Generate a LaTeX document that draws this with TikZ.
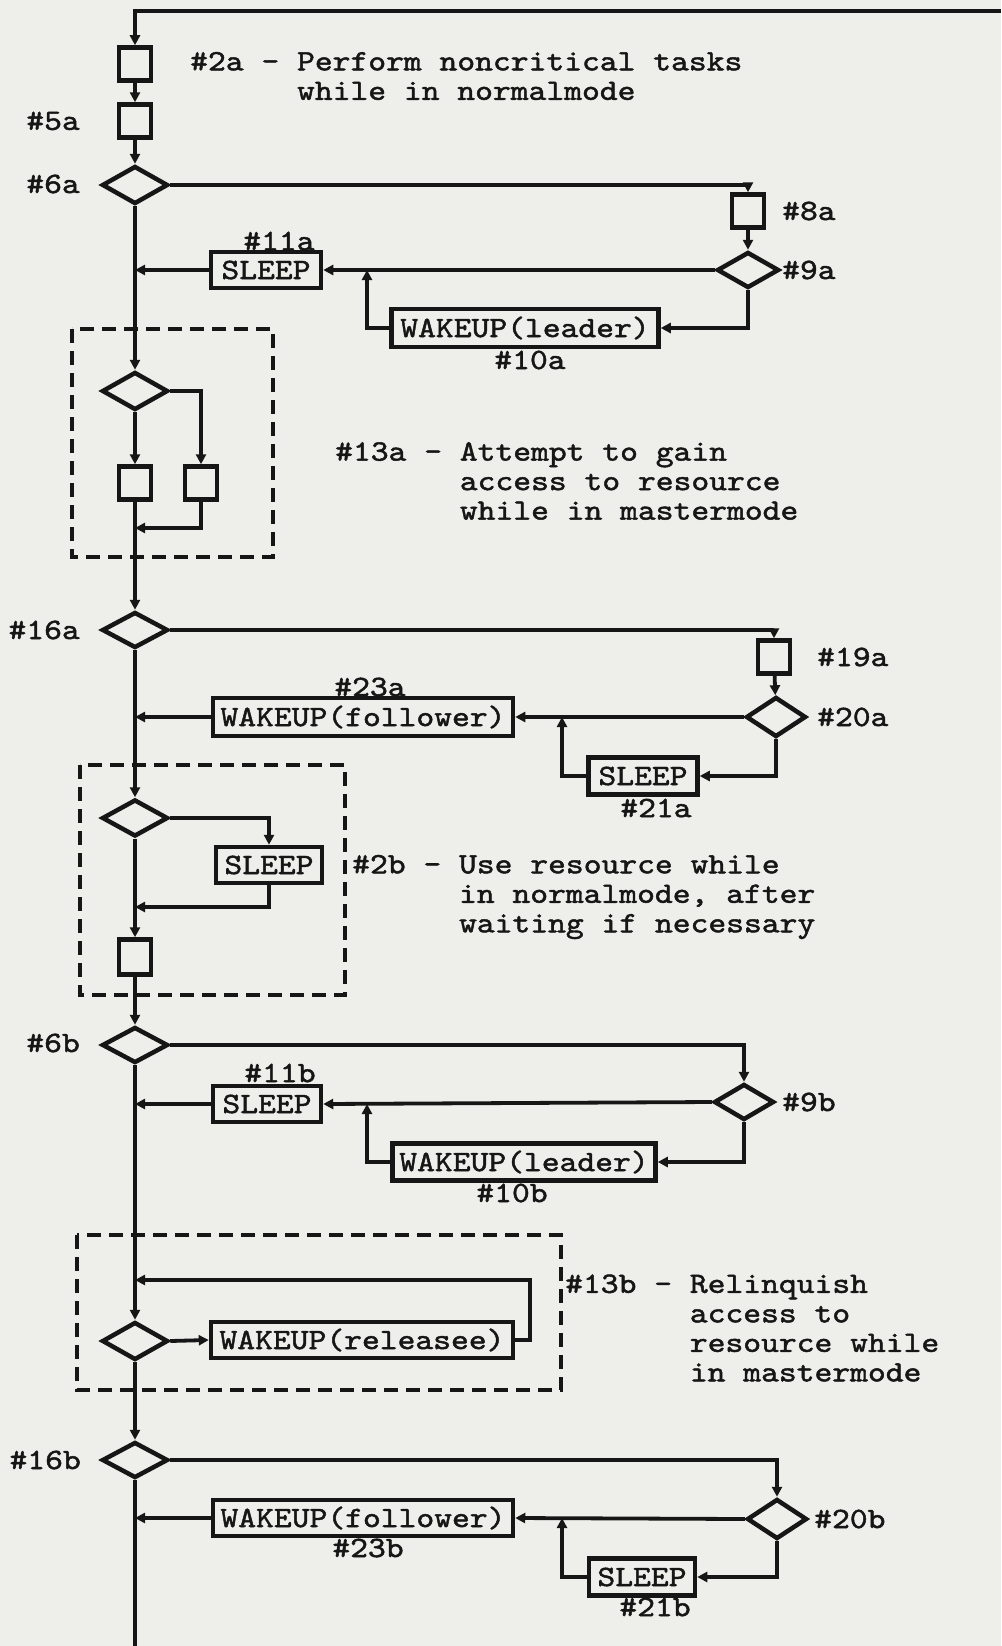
\documentclass[tikz,border=0pt]{standalone}
\usepackage{fontspec}
\newfontfamily\tw{lmmono10-regular}[Extension=.otf,FakeStretch=1.15,FakeBold=1.6]
\usetikzlibrary{shapes.geometric,arrows.meta}
\definecolor{paper}{RGB}{238,238,234}
\definecolor{ink}{RGB}{22,22,22}
\begin{document}
\begin{tikzpicture}[x=1pt,y=-1pt,
  every node/.style={font={\tw\fontsize{29.5}{29.5}\selectfont}, text=ink},
  ln/.style={line width=3.8pt, draw=ink},
  ar/.style={ln, -{Triangle[length=10pt,width=10pt]}},
  sq/.style={draw=ink, line width=4.5pt, minimum width=32pt, minimum height=33pt, inner sep=0pt},
  dm/.style={diamond, draw=ink, line width=4.5pt, minimum width=66pt, minimum height=38pt, inner sep=0pt},
  bx/.style={draw=ink, line width=4.5pt, minimum height=36pt, inner sep=0pt},
  dsh/.style={draw=ink, line width=3.8pt, dash pattern=on 14pt off 8pt},
  lb/.style={inner sep=0pt},
  desc/.style={inner sep=0pt, align=left, anchor=west},
]
\fill[paper] (0,0) rectangle (1001,1646);
\useasboundingbox (0,0) rectangle (1001,1646);

% ---------- part a ----------
\node[sq] (b2a) at (135,64) {};
\node[sq] (b5a) at (135,121) {};
\node[dm] (d6a) at (135,185) {};
\node[sq] (b8a) at (748,211) {};
\node[dm, minimum width=62pt, minimum height=36pt] (d9a) at (748,270) {};
\node[bx, minimum width=110pt] (s11a) at (266,270) {SLEEP};
\node[bx, minimum width=267pt, minimum height=38pt] (w10a) at (525,328) {WAKEUP(leader)};
\coordinate (j10a) at (367,270);

\draw[dsh] (72,329) rectangle (273,557);
\node[dm] (d13a) at (135,391) {};
\node[sq] (bl13a) at (135,483) {};
\node[sq] (br13a) at (201,483) {};
\coordinate (j13a) at (135,528);

\node[dm, minimum height=36pt] (d16a) at (135,630) {};
\node[sq] (b19a) at (774,657) {};
\node[dm, minimum width=60pt, minimum height=40pt] (d20a) at (776,717) {};
\node[bx, minimum width=300pt, minimum height=38pt] (w23a) at (363,717) {WAKEUP(follower)};
\node[bx, minimum width=109pt, minimum height=37pt] (s21a) at (643,776) {SLEEP};
\coordinate (j21a) at (562,717);

% ---------- part b ----------
\draw[dsh] (80,765) rectangle (345,995);
\node[dm, minimum height=37pt] (d2b) at (135,818) {};
\node[bx, minimum width=106pt] (s2b) at (269,865) {SLEEP};
\coordinate (j2b) at (135,907);
\node[sq, minimum height=35pt] (b2b) at (135,957) {};

\node[dm, minimum height=36pt] (d6b) at (135,1045) {};
\node[dm, minimum width=60pt, minimum height=36pt] (d9b) at (744,1102) {};
\node[bx, minimum width=108pt] (s11b) at (267,1104) {SLEEP};
\node[bx, minimum width=263pt, minimum height=37pt] (w10b) at (524,1162) {WAKEUP(leader)};
\coordinate (j10b) at (367,1104);

\draw[dsh] (77,1235) rectangle (561,1390);
\node[dm] (d13b) at (135,1341) {};
\node[bx, minimum width=302pt] (w13b) at (362,1340) {WAKEUP(releasee)};
\coordinate (j13b) at (135,1280);
\coordinate (r13b) at (530,1280);

\node[dm, minimum height=36pt] (d16b) at (135,1460) {};
\node[dm, minimum width=60pt, minimum height=40pt] (d20b) at (777,1519) {};
\node[bx, minimum width=300pt] (w23b) at (363,1518) {WAKEUP(follower)};
\node[bx, minimum width=106pt, minimum height=37pt] (s21b) at (642,1577) {SLEEP};
\coordinate (j21b) at (562,1518);
\coordinate (tr) at (1001,11);
\coordinate (bot) at (135,1646);

% ---------- connectors ----------
\draw[ar] (tr) -| (b2a.north);
\draw[ar] (b2a) -- (b5a);
\draw[ar] (b5a) -- (d6a);
\draw[ar] (d6a.east) -| (b8a.north);
\draw[ar] (b8a) -- (d9a);
\draw[ar] (d9a.west) -- (s11a.east);
\draw[ar] (s11a.west) -- (s11a.west -| d6a.south);
\draw[ar] (d9a.south) |- (w10a.east);
\draw[ar] (w10a.west) -| (j10a);
\draw[ar] (d6a.south) -- (d13a.north);
\draw[ar] (d13a.south) -- (bl13a.north);
\draw[ar] (d13a.east) -| (br13a.north);
\draw[ar] (br13a.south) |- (j13a);
\draw[ar] (bl13a.south) -- (d16a.north);
\draw[ar] (d16a.east) -| (b19a.north);
\draw[ar] (b19a) -- (d20a);
\draw[ar] (d20a.west) -- (w23a.east);
\draw[ar] (w23a.west) -- (w23a.west -| d16a.south);
\draw[ar] (d20a.south) |- (s21a.east);
\draw[ar] (s21a.west) -| (j21a);
\draw[ar] (d16a.south) -- (d2b.north);
\draw[ar] (d2b.east) -| (s2b.north);
\draw[ar] (s2b.south) |- (j2b);
\draw[ar] (d2b.south) -- (b2b.north);
\draw[ar] (b2b.south) -- (d6b.north);
\draw[ar] (d6b.east) -| (d9b.north);
\draw[ar] (d9b.west) -- (s11b.east);
\draw[ar] (s11b.west) -- (s11b.west -| d6b.south);
\draw[ar] (d9b.south) |- (w10b.east);
\draw[ar] (w10b.west) -| (j10b);
\draw[ar] (d6b.south) -- (d13b.north);
\draw[ar] (d13b.east) -- (w13b.west);
\draw[ar] (w13b.east) -| (r13b) -- (j13b);
\draw[ar] (d13b.south) -- (d16b.north);
\draw[ar] (d16b.east) -| (d20b.north);
\draw[ar] (d20b.west) -- (w23b.east);
\draw[ar] (w23b.west) -- (w23b.west -| d16b.south);
\draw[ar] (d20b.south) |- (s21b.east);
\draw[ar] (s21b.west) -| (j21b);
\draw[ln] (d16b.south) -- (bot);

% ---------- labels ----------
\node[desc] (t2a) at (190,76) {\#2a - Perform noncritical tasks\\\hphantom{\#2a - }while in normalmode};
\node[desc] (t13a) at (335,481) {\#13a - Attempt to gain\\\hphantom{\#13a - }access to resource\\\hphantom{\#13a - }while in mastermode};
\node[desc] (t2b) at (352,897) {\#2b - Use resource while\\\hphantom{\#2b - }in normalmode, after\\\hphantom{\#2b - }waiting if necessary};
\node[desc] (t13b) at (565,1328) {\#13b - Relinquish\\\hphantom{\#13b - }access to\\\hphantom{\#13b - }resource while\\\hphantom{\#13b - }in mastermode};

\node[lb, anchor=east] (l5a) at (80,121) {\#5a};
\node[lb, anchor=east] (l6a) at (80,184) {\#6a};
\node[lb, anchor=west] (l8a) at (782,211) {\#8a};
\node[lb, anchor=west] (l9a) at (782,270) {\#9a};
\node[lb] (l11a) at (279,241) {\#11a};
\node[lb] (l10a) at (530,360) {\#10a};
\node[lb, anchor=east] (l16a) at (80,630) {\#16a};
\node[lb, anchor=west] (l19a) at (817,657) {\#19a};
\node[lb, anchor=west] (l20a) at (817,717) {\#20a};
\node[lb] (l23a) at (370,687) {\#23a};
\node[lb] (l21a) at (656,808) {\#21a};
\node[lb, anchor=east] (l6b) at (80,1043) {\#6b};
\node[lb, anchor=west] (l9b) at (782,1102) {\#9b};
\node[lb] (l11b) at (280,1073) {\#11b};
\node[lb] (l10b) at (512,1193) {\#10b};
\node[lb, anchor=east] (l16b) at (81,1460) {\#16b};
\node[lb, anchor=west] (l20b) at (814,1519) {\#20b};
\node[lb] (l23b) at (368,1548) {\#23b};
\node[lb] (l21b) at (655,1607) {\#21b};
\end{tikzpicture}
\end{document}
